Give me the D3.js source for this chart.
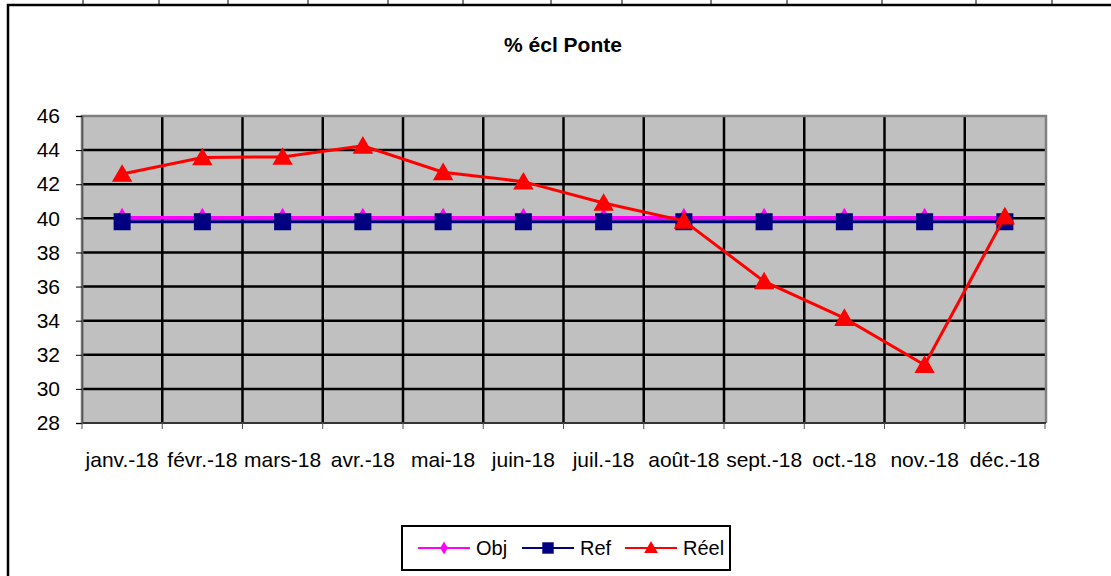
<!DOCTYPE html>
<html>
<head>
<meta charset="utf-8">
<script src="https://cdn.jsdelivr.net/npm/d3@7"></script>
<style>
  body { margin: 0; background: #fff; }
  svg { display: block; font-family: "Liberation Sans", Arial, sans-serif; }
</style>
</head>
<body>
<svg width="1111" height="576"></svg>
<script>
const mois = ['janv.-18', 'févr.-18', 'mars-18', 'avr.-18', 'mai-18', 'juin-18',
              'juil.-18', 'août-18', 'sept.-18', 'oct.-18', 'nov.-18', 'déc.-18'];
const obj = [40.05, 40.05, 40.05, 40.05, 40.05, 40.05, 40.05, 40.05, 40.05, 40.05, 40.05, 40.05];
const ref = [39.8, 39.8, 39.8, 39.8, 39.8, 39.8, 39.8, 39.8, 39.8, 39.8, 39.8, 39.8];
const reel = [42.6, 43.57, 43.6, 44.25, 42.7, 42.15, 40.9, 39.85, 36.3, 34.15, 31.4, 40.1];
const yTicks = [28, 30, 32, 34, 36, 38, 40, 42, 44, 46];

const svg = d3.select('svg');

// cadre de la feuille (bouts de cellules en haut)
const cellules = [83, 159, 228, 308, 388, 463, 551, 622, 711, 787, 882, 976, 1052];
svg.selectAll('line.cell').data(cellules).join('line')
  .attr('x1', d => d).attr('x2', d => d).attr('y1', 0).attr('y2', 5)
  .attr('stroke', '#000').attr('stroke-width', 1);
svg.append('path').attr('d', 'M8,576V5H1111').attr('fill', 'none')
  .attr('stroke', '#000').attr('stroke-width', 2.5);

const x = d3.scaleBand().domain(mois).range([82, 1045]).padding(0);
const y = d3.scaleLinear().domain([28, 46]).range([423, 116]);
const cx = d => x(d) + x.bandwidth() / 2;

// zone de tracé
svg.append('rect').attr('x', 82).attr('y', 116).attr('width', 963).attr('height', 307)
  .attr('fill', '#c0c0c0');

svg.selectAll('line.hgrid').data(yTicks.slice(1, -1)).join('line')
  .attr('x1', 82).attr('x2', 1045).attr('y1', d => y(d)).attr('y2', d => y(d))
  .attr('stroke', '#000').attr('stroke-width', 2.5);
svg.selectAll('line.vgrid').data(mois.slice(1)).join('line')
  .attr('x1', d => x(d)).attr('x2', d => x(d)).attr('y1', 116).attr('y2', 423)
  .attr('stroke', '#000').attr('stroke-width', 2.5);

svg.append('path').attr('d', 'M82,423V116H1046V423').attr('fill', 'none')
  .attr('stroke', '#808080').attr('stroke-width', 2.5);
svg.append('line').attr('x1', 82).attr('x2', 1046).attr('y1', 423).attr('y2', 423)
  .attr('stroke', '#333').attr('stroke-width', 2);

// axes
const yAxis = svg.append('g').attr('transform', 'translate(82,0)')
  .call(d3.axisLeft(y).tickValues(yTicks).tickSize(6).tickPadding(16));
yAxis.select('.domain').attr('stroke', '#555').attr('stroke-width', 1.5);
yAxis.selectAll('text').attr('font-size', 21).attr('fill', '#000')
  .attr('font-family', '"Liberation Sans", Arial, sans-serif');

const xAxis = svg.append('g').attr('transform', 'translate(0,423)')
  .call(d3.axisBottom(x).tickSize(0).tickPadding(29));
xAxis.select('.domain').remove();
xAxis.selectAll('text').attr('font-size', 21).attr('fill', '#000')
  .attr('font-family', '"Liberation Sans", Arial, sans-serif');
svg.selectAll('line.xtick').data(mois.concat(['fin'])).join('line')
  .attr('x1', (d, i) => 82 + i * x.bandwidth()).attr('x2', (d, i) => 82 + i * x.bandwidth())
  .attr('y1', 423).attr('y2', 429).attr('stroke', '#555').attr('stroke-width', 1);

// titre
svg.append('text').attr('x', 563).attr('y', 52).attr('text-anchor', 'middle')
  .attr('font-size', 21).attr('font-weight', 'bold').text('% écl Ponte');

// séries
const series = [
  { nom: 'Obj', vals: obj, couleur: '#ff00ff', sym: d3.symbolDiamond, taille: 110 },
  { nom: 'Ref', vals: ref, couleur: '#000080', sym: d3.symbolSquare, taille: 290 },
  { nom: 'Réel', vals: reel, couleur: '#ff0000', sym: d3.symbolTriangle, taille: 180 }
];
const ligne = d3.line().x((d, i) => cx(mois[i])).y(d => y(d));

series.forEach(s => {
  const g = svg.append('g');
  g.append('path').attr('d', ligne(s.vals)).attr('fill', 'none')
    .attr('stroke', s.couleur).attr('stroke-width', 3);
  g.selectAll('path.m').data(s.vals).join('path')
    .attr('class', 'm')
    .attr('transform', (d, i) => `translate(${cx(mois[i])},${y(d) + (s.sym === d3.symbolTriangle ? 2 : 0)})`)
    .attr('d', d3.symbol().type(s.sym).size(s.taille))
    .attr('fill', s.couleur);
});

// légende
const leg = svg.append('g');
leg.append('rect').attr('x', 402).attr('y', 526).attr('width', 328).attr('height', 44)
  .attr('fill', '#fff').attr('stroke', '#000').attr('stroke-width', 2);
const legX = [418, 522, 625];
series.forEach((s, i) => {
  const g = leg.append('g').attr('transform', `translate(${legX[i]},548)`);
  g.append('line').attr('x1', 0).attr('x2', 52).attr('stroke', s.couleur).attr('stroke-width', 2);
  g.append('path').attr('transform', `translate(26,${s.sym === d3.symbolTriangle ? 1 : 0})`)
    .attr('d', d3.symbol().type(s.sym).size(s.taille * 0.45)).attr('fill', s.couleur);
  g.append('text').attr('x', 58).attr('y', 7).attr('font-size', 20).text(s.nom);
});
</script>
</body>
</html>
